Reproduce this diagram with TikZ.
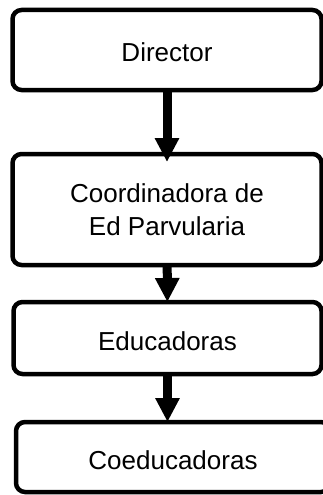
\documentclass[tikz,border=0pt]{standalone}
\usepackage{fontspec}
\setmainfont{Liberation Sans}
\usetikzlibrary{arrows.meta}

\begin{document}
\begin{tikzpicture}[x=1pt, y=-1pt,
  every node/.style={font=\fontsize{26}{33}\selectfont},
  orgbox/.style={draw, line width=4.5pt, rounded corners=9pt, align=center, inner sep=0pt, outer sep=0pt},
  oneline/.style={text height=24pt, text depth=0pt},
  link/.style={-{Triangle[width=23pt, length=24pt]}, line width=9pt}]
\useasboundingbox (0,0) rectangle (323,495);

% Director
\node[orgbox, oneline, minimum width=309pt, minimum height=80pt] (dir) at (167,50) {Director};

% Coordinadora
\node[orgbox, minimum width=309pt, minimum height=111pt] (coord) at (167,209.5) {Coordinadora de\\Ed Parvularia};

% Educadoras
\node[orgbox, oneline, minimum width=308pt, minimum height=72pt] (edu) at (167.5,338) {Educadoras};

% Coeducadoras
\node[orgbox, oneline, minimum width=314pt, minimum height=70pt] (coed) at (173,457) {Coeducadoras};

% Arrows
\draw[link, shorten >=-8pt] (dir) -- (coord);
\draw[link] (coord) -- (edu);
\draw[link] (edu.south) -- (edu.south |- coed.north);
\end{tikzpicture}
\end{document}
